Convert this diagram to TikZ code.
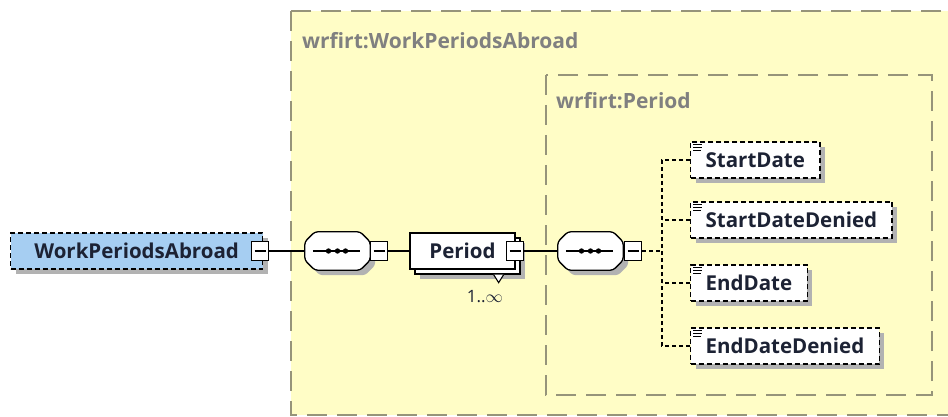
\documentclass[tikz,border=0pt]{standalone}
\usepackage{fontspec}
\setmainfont{Open Sans}
\usepackage{xcolor}
\usepackage{tikz}
\usetikzlibrary{shadows, positioning}

\definecolor{boxyellow}{RGB}{255,253,198}
\definecolor{boxline}{RGB}{150,148,122}
\definecolor{lblgray}{RGB}{128,128,128}
\definecolor{elblue}{RGB}{166,206,242}
\definecolor{eltext}{RGB}{28,34,52}
\definecolor{shade}{RGB}{178,178,178}

% octagon body of a sequence compositor, drawn round an empty node
\newcommand{\seqbody}[1]{%
  \draw[seqline, sh] ([shift={(10,0)}]#1.north west) -- ([shift={(-10,0)}]#1.north east)
    -- ([shift={(0,10)}]#1.north east) -- ([shift={(0,-10)}]#1.south east)
    -- ([shift={(-10,0)}]#1.south east) -- ([shift={(10,0)}]#1.south west)
    -- ([shift={(0,-10)}]#1.south west) -- ([shift={(0,10)}]#1.north west) -- cycle;
  \draw[line width=1.1pt] ([shift={(8,0)}]#1.west) -- ([shift={(-10,0)}]#1.east);
  \foreach \d in {-9,0,8} \fill ([shift={(\d,0)}]#1.center) circle (2.7pt);}

\begin{document}
\begin{tikzpicture}[x=1pt, y=-1pt,
  grp/.style={draw=boxline, line width=1.3pt, dash pattern=on 20pt off 10pt, fill=boxyellow},
  grplbl/.style={anchor=west, inner sep=0pt, text=lblgray,
                 font=\fontsize{21}{24}\selectfont\bfseries},
  sh/.style={drop shadow={shadow xshift=5pt, shadow yshift=-5pt, fill=shade, opacity=1}},
  el/.style={draw, line width=1.3pt, dash pattern=on 5pt off 3pt, fill=white, text=eltext,
             font=\fontsize{20.5}{24}\selectfont\bfseries, minimum height=36pt,
             inner xsep=15pt, anchor=west, sh},
  rep/.style={draw, line width=1.3pt, fill=white, text=eltext,
              font=\fontsize{20.5}{24}\selectfont\bfseries,
              minimum width=105pt, minimum height=36pt},
  minus/.style={draw, line width=1.1pt, fill=white, inner sep=0pt,
                minimum width=17pt, minimum height=19pt,
                path picture={\draw[line width=1.1pt]
                  ([xshift=3pt]path picture bounding box.west) --
                  ([xshift=-3pt]path picture bounding box.east);}},
  seq/.style={inner sep=0pt, minimum width=65pt, minimum height=38pt},
  seqline/.style={draw, line width=1.3pt, fill=white, rounded corners=3pt},
  conn/.style={line width=1.3pt},
  dconn/.style={line width=1.3pt, dash pattern=on 4pt off 3pt},
  mult/.style={inner sep=0pt, text=eltext, font=\fontsize{17}{20}\selectfont},
]
\useasboundingbox (0,0) rectangle (948,417);

% group boxes
\draw[grp] (291,11) rectangle (962,415);
\node[grplbl] (glbl) at (302,41) {wrfirt:WorkPeriodsAbroad};
\draw[grp] (546,75) rectangle (932,395);
\node[grplbl] (plbl) at (556,101) {wrfirt:Period};

% root element and sequence
\node[el, fill=elblue, minimum width=252pt] (wpa) at (10,251) {WorkPeriodsAbroad};
\node[minus] (wpam) at (260,251) {};
\node[seq] (seqa) at (337.5,251) {};
\seqbody{seqa}
\node[minus] (seqam) at (379,251) {};

% repeated Period
\node[rep, sh] (pback) at (467.5,256) {};
\draw[line width=1.1pt, fill=white] ([xshift=-27pt]pback.south east) -- ++(5,8) -- ++(5,-8);
\node[rep] (period) at (462.5,251) {Period};
\node[minus] (perm) at (515,251) {};
\node[mult] (occ) at (485,297) {1..$\infty$};

% inner sequence and children
\node[seq] (seqb) at (590.5,251) {};
\seqbody{seqb}
\node[minus] (seqbm) at (633,251) {};
\node[el] (sd)  at (690,160) {StartDate};
\node[el] (sdd) at (690,220) {StartDateDenied};
\node[el] (ed)  at (690,283) {EndDate};
\node[el] (edd) at (690,346) {EndDateDenied};
\foreach \n in {sd,sdd,ed,edd}
  \foreach \k/\w in {1/9,2/9,3/8}
    \draw[line width=0.8pt] ([shift={(3,3*\k)}]\n.north west) -- ++(\w,0);

% connectors
\coordinate (trunk) at (662,251);
\draw[conn] (wpam) -- (seqa);
\draw[conn] (seqam) -- (period);
\draw[conn] (perm) -- (seqb);
\draw[dconn] (seqbm) -- (trunk);
\draw[dconn] (sd.west) -| (trunk);
\draw[dconn] (edd.west) -| (trunk);
\draw[dconn] (sdd.west) -- (sdd.west -| trunk);
\draw[dconn] (ed.west) -- (ed.west -| trunk);
\end{tikzpicture}
\end{document}
